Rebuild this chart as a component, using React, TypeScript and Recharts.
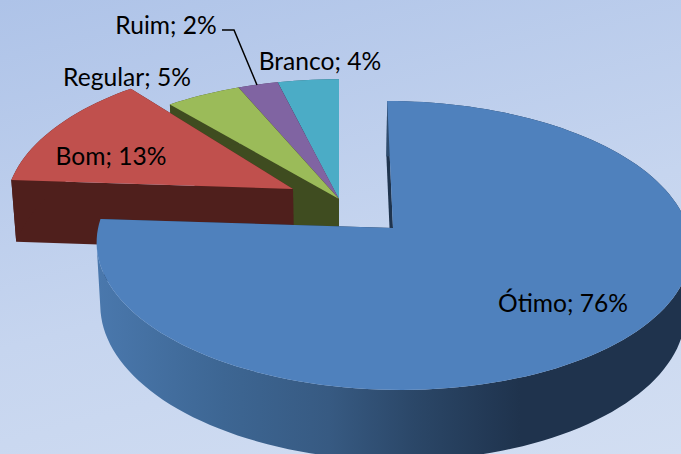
import { PieChart, Pie, Cell } from "recharts";

const categories = ["Branco", "Ruim", "Regular", "Bom", "Ótimo"];
// slice sizes, the labels show them rounded
const shares = [3.8, 2.5, 4.7, 13, 76];
const shownPercents = [4, 2, 5, 13, 76];

const topColors = ["#4bacc6", "#8064a2", "#9bbb59", "#c0504d", "#4f81bd"];
const sideColors = ["#2a6070", "#46375a", "#3f4c20", "#4f1f1c", "#1f344e"];

// how far each slice is pulled out of the pie, and its radius correction
const explode = [
  { dx: 0, dy: 0, sx: 1, sy: 1 },
  { dx: 0, dy: 0, sx: 1, sy: 1 },
  { dx: 0, dy: 0, sx: 1, sy: 1 },
  { dx: -46, dy: -10, sx: 0.982, sy: 1.06 },
  { dx: 54, dy: 29, sx: 1.017, sy: 1.06 },
];

const labelSpots = [
  { x: 320, y: 60 },
  { x: 166, y: 24 },
  { x: 127, y: 76 },
  { x: 111, y: 155 },
  { x: 563, y: 302 },
];

const WIDTH = 681;
const HEIGHT = 454;
const CX = 339;
const CY = 199;
const RADIUS = 290;
const SQUASH = 0.463;
const PERSPECTIVE = 0.121;
const DEPTH = 62;
const WALL_SHRINK = 0.985;

const data = categories.map((name, i) => ({ name, value: shares[i] }));

const toPath = (pts: { x: number; y: number }[]) =>
  pts.map((p, i) => `${i ? "L" : "M"}${p.x.toFixed(1)} ${p.y.toFixed(1)}`).join(" ") + " Z";

const Slice3D = (props: any) => {
  const { cx, cy, outerRadius, startAngle, endAngle, name } = props;
  const index = categories.indexOf(name ?? props.payload?.name);
  const { dx, dy, sx, sy } = explode[index];
  const apexX = cx + dx;
  const apexY = cy + dy;
  const rx = outerRadius * sx;
  const ry = outerRadius * SQUASH * sy;

  const scaleAt = (v: number) => 1 / (1 + PERSPECTIVE * v);
  const rim = (deg: number) => {
    const a = (deg * Math.PI) / 180;
    const u = Math.cos(a);
    const v = Math.sin(a);
    const s = scaleAt(v);
    return {
      x: apexX + dx * (s - 1) + rx * u * s,
      y: apexY - ry * v * s,
      s,
    };
  };
  const drop = (p: { x: number; y: number; s: number }) => ({
    x: cx + (p.x - cx) * WALL_SHRINK,
    y: p.y + DEPTH * p.s,
    s: p.s,
  });

  const steps = Math.max(2, Math.ceil(Math.abs(endAngle - startAngle) / 2));
  const arc = [];
  for (let i = 0; i <= steps; i++) {
    arc.push(rim(startAngle + ((endAngle - startAngle) * i) / steps));
  }
  const apex = { x: apexX, y: apexY, s: 1 };
  const first = arc[0];
  const last = arc[arc.length - 1];
  const gradientId = `wall-${index}`;
  const isBig = index === categories.length - 1;

  // the big slice's wall only starts at its leftmost rim point
  let from = 0;
  if (isBig) {
    arc.forEach((p, i) => {
      if (p.x < arc[from].x) from = i;
    });
  }
  const wallArc = arc.slice(from);
  const ribbon = [...wallArc, ...wallArc.map(drop).reverse()];

  return (
    <g>
      {isBig && (
        <defs>
          <linearGradient id={gradientId} gradientUnits="userSpaceOnUse" x1={96} y1={0} x2={520} y2={0}>
            <stop offset="0" stopColor="#4a78ad" />
            <stop offset="0.3" stopColor="#3d6693" />
            <stop offset="0.55" stopColor="#375a82" />
            <stop offset="0.75" stopColor="#2b4768" />
            <stop offset="1" stopColor="#1f334d" />
          </linearGradient>
        </defs>
      )}
      <path d={toPath([apex, first, drop(first), drop(apex)])} fill={sideColors[index]} />
      <path d={toPath([apex, last, drop(last), drop(apex)])} fill={sideColors[index]} />
      <path d={toPath(ribbon)} fill={isBig ? `url(#${gradientId})` : sideColors[index]} />
      <path d={toPath([apex, ...arc])} fill={topColors[index]} />
    </g>
  );
};

const renderLabel = (props: any) => {
  const i = props.index;
  const spot = labelSpots[i];
  return (
    <g key={categories[i]}>
      {categories[i] === "Ruim" && (
        <polyline points="222,30 234,30 257,85" fill="none" stroke="#000" strokeWidth={1.5} />
      )}
      <text
        x={spot.x}
        y={spot.y}
        textAnchor="middle"
        dominantBaseline="central"
        fontFamily="Lato, sans-serif"
        fontSize={24.6}
        fill="#000"
      >
        {`${categories[i]}; ${shownPercents[i]}%`}
      </text>
    </g>
  );
};

export default function App() {
  return (
    <div
      style={{
        width: WIDTH,
        height: HEIGHT,
        overflow: "hidden",
        background: "linear-gradient(165deg, #aec3e8 0%, #c6d5ef 55%, #d2def2 100%)",
      }}
    >
      <style>{`body{margin:0}`}</style>
      <PieChart width={WIDTH} height={HEIGHT} margin={{ top: 0, right: 0, bottom: 0, left: 0 }}>
        <Pie
          data={data}
          dataKey="value"
          nameKey="name"
          cx={CX}
          cy={CY}
          outerRadius={RADIUS}
          startAngle={-270}
          endAngle={90}
          stroke="none"
          shape={Slice3D}
          label={renderLabel}
          labelLine={false}
          isAnimationActive={false}
        >
          {data.map((d, i) => (
            <Cell key={d.name} fill={topColors[i]} />
          ))}
        </Pie>
      </PieChart>
    </div>
  );
}
